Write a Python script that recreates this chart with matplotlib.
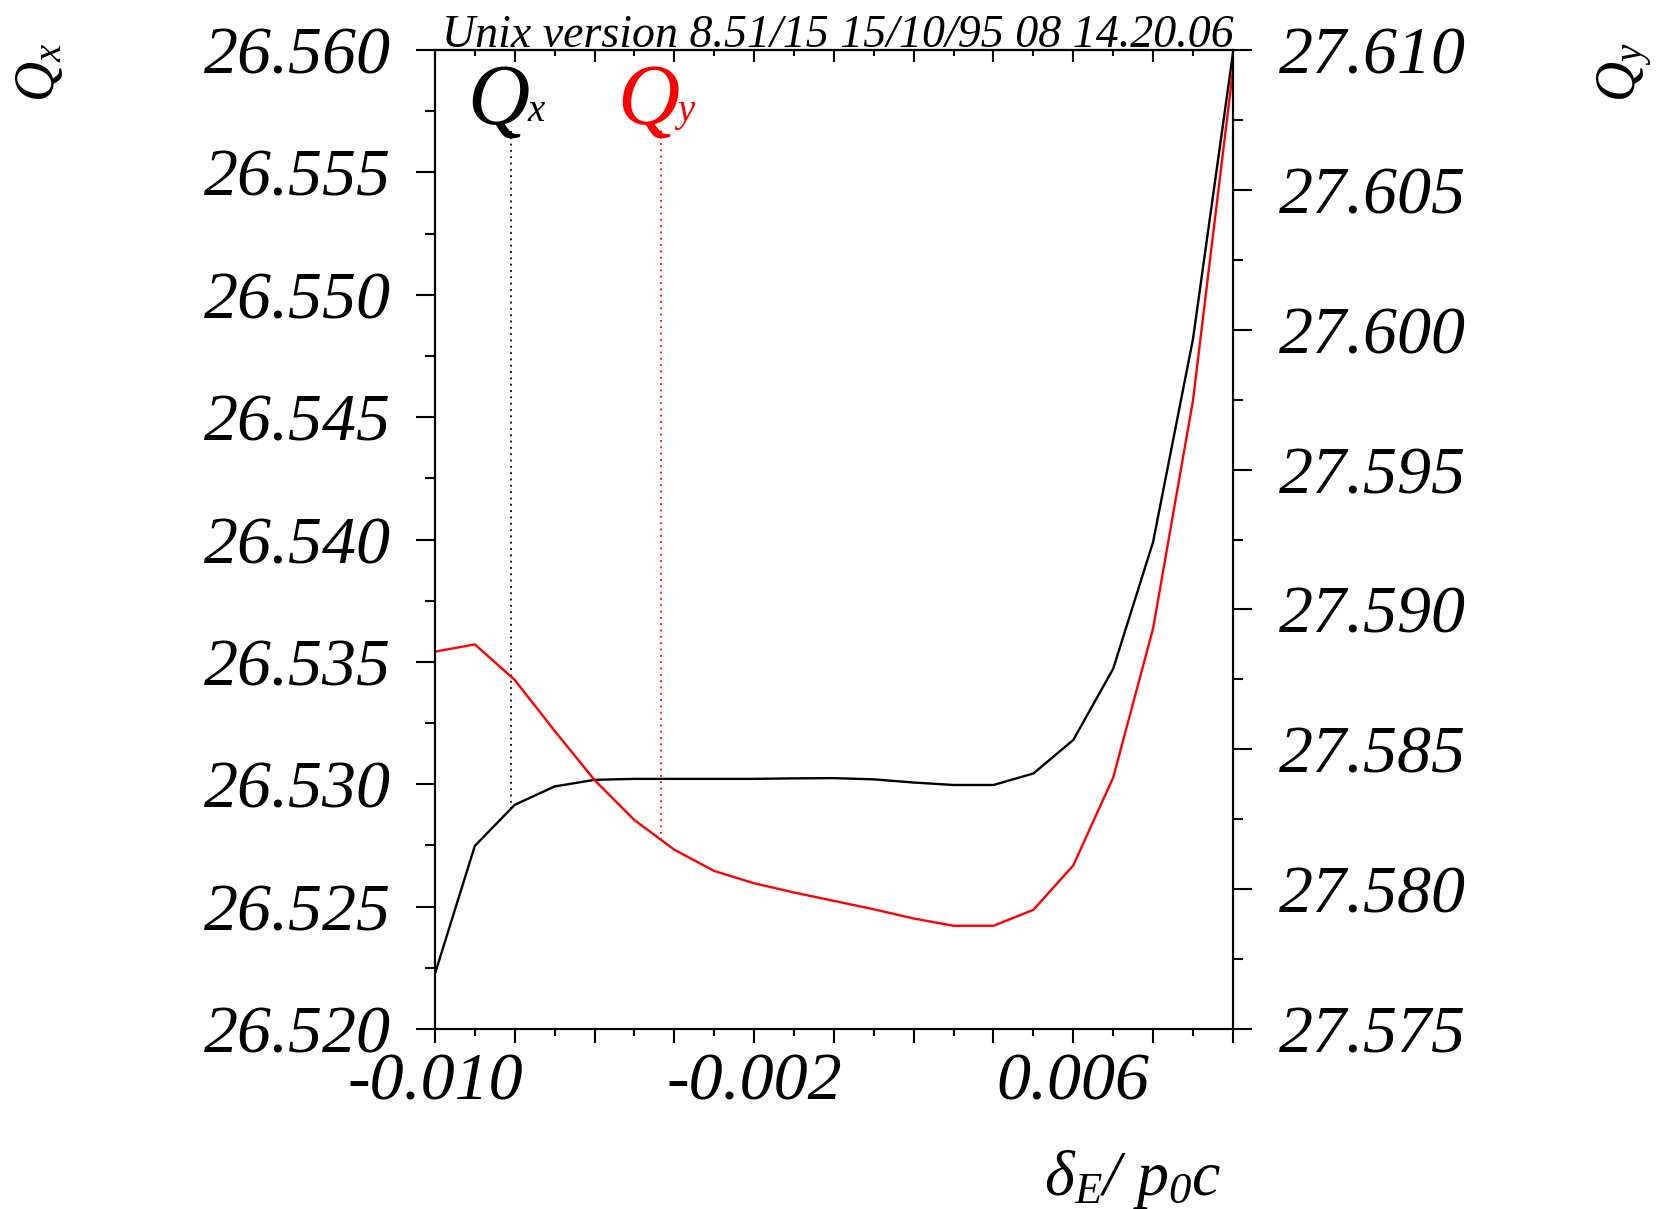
import numpy as np
import matplotlib
matplotlib.use("Agg")
import matplotlib.pyplot as plt

# ── DATA: tunes vs. relative momentum deviation ───────────
delta = [-0.010, -0.009, -0.008, -0.007, -0.006, -0.005, -0.004,
         -0.003, -0.002, -0.001, 0.000, 0.001, 0.002, 0.003,
         0.004, 0.005, 0.006, 0.007, 0.008, 0.009, 0.010]

qx = [26.52225, 26.52748, 26.52916, 26.52991, 26.53018, 26.53022, 26.53022,
      26.53022, 26.53022, 26.53024, 26.53025, 26.53020, 26.53007, 26.52997,
      26.52997, 26.53044, 26.53181, 26.53472, 26.53990, 26.54819, 26.55985]

qy = [27.58849, 27.58875, 27.58748, 27.58566, 27.58390, 27.58247, 27.58141,
      27.58065, 27.58021, 27.57988, 27.57958, 27.57928, 27.57895, 27.57869,
      27.57869, 27.57926, 27.58085, 27.58399, 27.58932, 27.59747, 27.60926]

x_labels = {-0.010: "-0.010", -0.002: "-0.002", 0.006: "0.006"}
qx_ticks = [26.520, 26.525, 26.530, 26.535, 26.540, 26.545, 26.550, 26.555, 26.560]
qy_ticks = [27.575, 27.580, 27.585, 27.590, 27.595, 27.600, 27.605, 27.610]

HEADER = "Unix version 8.51/15 15/10/95 08 14.20.06"

# where the curve labels sit
qx_label_at = -0.0081
qy_label_at = -0.00434

# ── STYLE ─────────────────────────────────────────────────
plt.rcParams["font.family"] = ["Liberation Serif", "DejaVu Serif"]
plt.rcParams["font.style"] = "italic"
plt.rcParams["mathtext.fontset"] = "custom"
plt.rcParams["mathtext.rm"] = "Liberation Serif"
plt.rcParams["mathtext.it"] = "Liberation Serif:italic"

TICK_FS = 49
LW = 1.5

fig = plt.figure(figsize=(16.6, 12.09), dpi=100)
ax = fig.add_axes([0.2620, 0.1489, 0.4807, 0.8097])
ax2 = ax.twinx()

ax.plot(delta, qx, color="black", lw=1.7)
ax2.plot(delta, qy, color="red", lw=1.7)

ax.set_xlim(-0.010, 0.010)
ax.set_ylim(26.520, 26.560)
ax2.set_ylim(27.575, 27.610)

# x axis: majors every 0.002, labels every 0.008
xmajor = np.round(np.arange(-0.010, 0.0101, 0.002), 4)
xminor = np.round(np.arange(-0.009, 0.0100, 0.002), 4)
ax.set_xticks(xmajor, labels=[x_labels.get(v, "") for v in xmajor])
ax.set_xticks(xminor, minor=True)
ax.tick_params(axis="x", which="major", direction="out", length=10, width=LW,
               pad=7, labelsize=TICK_FS, top=False)
ax.tick_params(axis="x", which="minor", direction="out", length=5, width=LW,
               top=False)

top = ax.secondary_xaxis("top")
top.set_xticks(xmajor, labels=[])
top.set_xticks(xminor, minor=True)
top.tick_params(which="major", direction="in", length=8.6, width=LW)
top.tick_params(which="minor", direction="in", length=4.3, width=LW)
top.spines["top"].set_linewidth(LW)

# left axis (Qx)
ax.set_yticks(qx_ticks, labels=[f"{v:.3f}" for v in qx_ticks])
ax.set_yticks(np.array(qx_ticks[:-1]) + 0.0025, minor=True)
ax.tick_params(axis="y", which="major", direction="out", length=14, width=LW,
               pad=18, labelsize=TICK_FS)
ax.tick_params(axis="y", which="minor", direction="out", length=7, width=LW)

# right axis (Qy)
ax2.set_yticks(qy_ticks, labels=[f"{v:.3f}" for v in qy_ticks])
ax2.set_yticks(np.array(qy_ticks[:-1]) + 0.0025, minor=True)
ax2.tick_params(axis="y", which="major", direction="out", length=14, width=LW,
                pad=19, labelsize=TICK_FS)
ax2.tick_params(axis="y", which="minor", direction="out", length=7, width=LW)

for a in (ax, ax2):
    for s in a.spines.values():
        s.set_linewidth(LW)

# curve labels with dotted leaders down to the curves
label_y = 0.920
yx = np.interp(qx_label_at, delta, qx)
yy = np.interp(qy_label_at, delta, qy)
ax.plot([qx_label_at, qx_label_at], [yx, ax.get_ylim()[0] + label_y * 0.040],
        color="black", lw=1.3, dashes=(1, 2.5))
ax2.plot([qy_label_at, qy_label_at], [yy, ax2.get_ylim()[0] + label_y * 0.035],
         color="red", lw=1.3, dashes=(1, 2.5))

for xpos, sub, col in [(qx_label_at, "x", "black"), (qy_label_at, "y", "red")]:
    ax.annotate("Q", xy=(xpos, 0.925), xycoords=("data", "axes fraction"),
                xytext=(-9, 0), textcoords="offset points",
                ha="center", va="baseline", fontsize=62, color=col)
    ax.annotate(sub, xy=(xpos, 0.928), xycoords=("data", "axes fraction"),
                xytext=(12, 0), textcoords="offset points",
                ha="left", va="baseline", fontsize=28, color=col)

# axis titles
fig.text(0.736, 0.0116, r"$\mathrm{\delta}_{E}/\ p_{\mathit{0}}c$",
         ha="right", va="baseline", fontsize=46)
fig.text(0.024, 0.940, r"$Q_x$", rotation=90, ha="center", va="center",
         fontsize=40)
fig.text(0.979, 0.940, r"$Q_y$", rotation=90, ha="center", va="center",
         fontsize=40)

# run header along the top frame
fig.text(0.2663, 0.9611, HEADER, ha="left", va="baseline", fontsize=33)

fig.savefig("out.png", dpi=100)
